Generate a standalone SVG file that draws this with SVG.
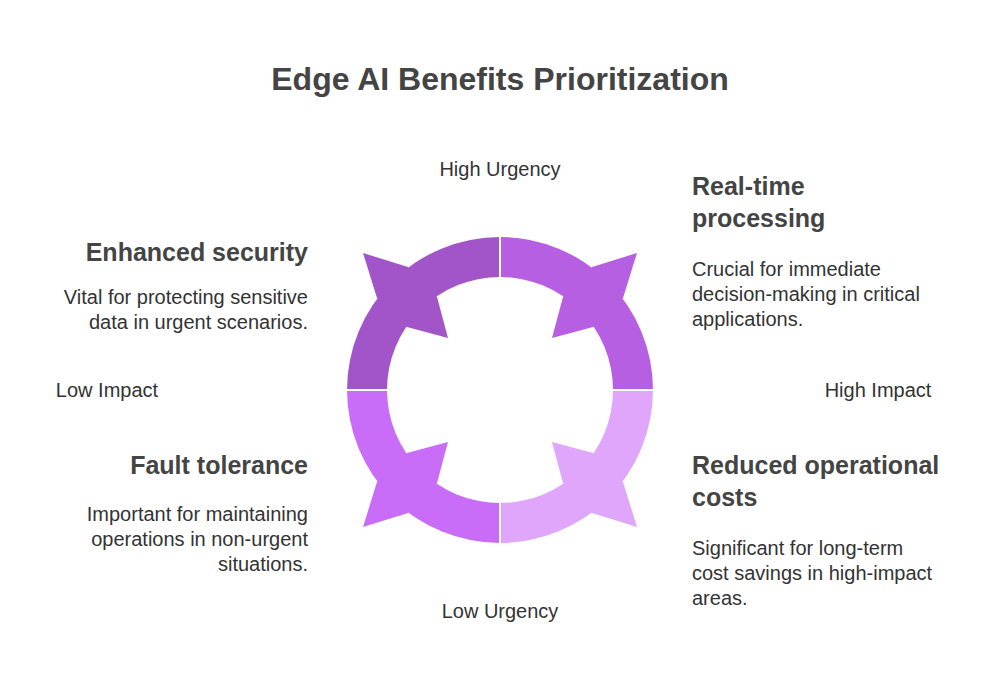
<svg xmlns="http://www.w3.org/2000/svg" width="1000" height="700" viewBox="0 0 1000 700">
<style>
text{font-family:"Liberation Sans",Arial,sans-serif;fill:#333}
.t{font-size:32px;font-weight:bold;fill:#444}
.h{font-size:25px;font-weight:bold;fill:#444}
.b{font-size:20px}
.a{font-size:20px;text-anchor:middle}
.r{text-anchor:end}
</style>
<defs>
<g id="q">
<path d="M347,390 A153,153 0 0 1 500,237 L500,277 A113,113 0 0 0 387,390 Z"/>
<polygon points="363,253 408,267 437,297 448,338 407,327 377,298"/>
</g>
</defs>
<rect width="1000" height="700" fill="#fff"/>
<text class="t" x="500" y="90" text-anchor="middle">Edge AI Benefits Prioritization</text>
<g id="connectors">
<use href="#q" fill="#A155C8"/>
<use href="#q" fill="#B75FE2" transform="rotate(90 500 390)"/>
<use href="#q" fill="#E0A6FB" transform="rotate(180 500 390)"/>
<use href="#q" fill="#C96CF8" transform="rotate(270 500 390)"/>
<line x1="500" y1="230" x2="500" y2="550" stroke="#fff" stroke-width="2"/>
<line x1="340" y1="390" x2="660" y2="390" stroke="#fff" stroke-width="2"/>
</g>
<g id="axes">
<text class="a" x="500" y="176">High Urgency</text>
<text class="a" x="500" y="618">Low Urgency</text>
<text class="a" x="107" y="397">Low Impact</text>
<text class="a" x="878" y="397">High Impact</text>
</g>
<g id="security">
<text class="h r" x="308" y="261">Enhanced security</text>
<text class="b r" x="308" y="304">Vital for protecting sensitive</text>
<text class="b r" x="308" y="329">data in urgent scenarios.</text>
</g>
<g id="fault">
<text class="h r" x="308" y="474">Fault tolerance</text>
<text class="b r" x="308" y="521">Important for maintaining</text>
<text class="b r" x="308" y="546">operations in non-urgent</text>
<text class="b r" x="308" y="571">situations.</text>
</g>
<g id="realtime">
<text class="h" x="692" y="195">Real-time</text>
<text class="h" x="692" y="227">processing</text>
<text class="b" x="692" y="276">Crucial for immediate</text>
<text class="b" x="692" y="301">decision-making in critical</text>
<text class="b" x="692" y="326">applications.</text>
</g>
<g id="costs">
<text class="h" x="692" y="474">Reduced operational</text>
<text class="h" x="692" y="506">costs</text>
<text class="b" x="692" y="555">Significant for long-term</text>
<text class="b" x="692" y="580">cost savings in high-impact</text>
<text class="b" x="692" y="605">areas.</text>
</g>
</svg>
